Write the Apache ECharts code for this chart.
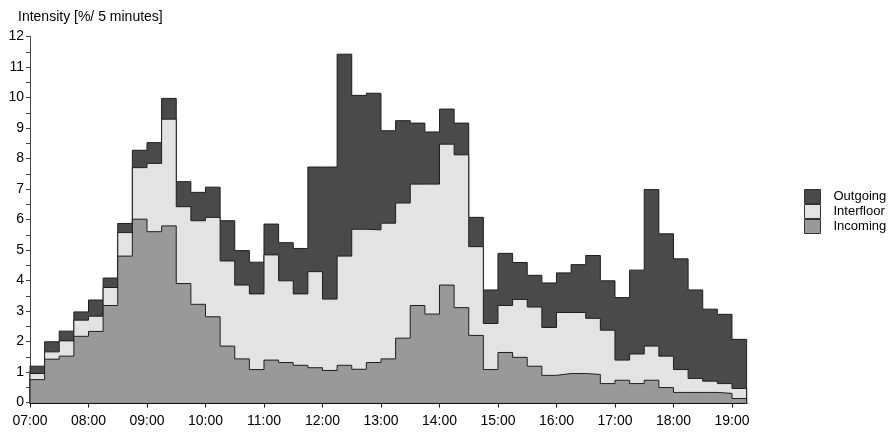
<!DOCTYPE html>
<html>
<head>
<meta charset="utf-8">
<script src="https://cdn.jsdelivr.net/npm/echarts@6/dist/echarts.min.js"></script>
<style>
html,body{margin:0;padding:0;background:#fff;}
#chart{width:890px;height:432px;}
</style>
</head>
<body>
<div id="chart"></div>
<script>
// 15-minute slot start times
const slotStarts = ['07:00','07:15','07:30','07:45','08:00','08:15','08:30','08:45',
  '09:00','09:15','09:30','09:45','10:00','10:15','10:30','10:45',
  '11:00','11:15','11:30','11:45','12:00','12:15','12:30','12:45',
  '13:00','13:15','13:30','13:45','14:00','14:15','14:30','14:45',
  '15:00','15:15','15:30','15:45','16:00','16:15','16:30','16:45',
  '17:00','17:15','17:30','17:45','18:00','18:15','18:30','18:45','19:00'];
const slotEnd = '19:15';
const hourLabels = ['07:00','08:00','09:00','10:00','11:00','12:00','13:00','14:00','15:00','16:00','17:00','18:00','19:00'];
const legendOrder = ['Outgoing','Interfloor','Incoming'];

const incoming = [0.75,1.42,1.52,2.17,2.33,3.18,4.80,6.01,5.60,5.79,3.90,3.22,2.81,1.85,1.43,1.08,
  1.39,1.31,1.22,1.14,1.05,1.22,1.09,1.31,1.43,2.11,3.18,2.90,3.85,3.11,2.20,1.08,
  1.64,1.48,1.19,0.89,0.95,0.95,0.92,0.62,0.73,0.62,0.73,0.49,0.33,0.33,0.33,0.30,0.13];
const interfloor = [0.20,0.24,0.50,0.53,0.50,0.59,0.77,1.69,2.24,3.50,2.52,2.74,3.26,2.79,2.42,2.48,
  3.45,2.68,2.34,3.15,2.34,3.58,4.59,4.35,4.45,4.43,3.98,4.26,4.62,5.01,2.91,1.51,
  1.54,1.90,1.94,1.57,2.00,2.00,1.84,1.75,0.66,0.97,1.12,1.03,0.75,0.46,0.37,0.32,0.33];
const outgoing = [0.24,0.33,0.32,0.27,0.53,0.31,0.30,0.57,0.68,0.68,0.82,0.93,0.99,1.32,1.13,1.04,
  1.01,1.25,1.49,3.43,4.33,6.62,4.39,4.48,3.03,2.70,2.00,1.71,1.15,1.04,0.96,1.10,
  1.71,1.21,1.04,1.46,1.30,1.57,2.06,1.62,2.05,2.75,5.13,4.01,3.63,2.90,2.36,2.27,1.61];

const colors = {Incoming:'#999999', Interfloor:'#e3e3e3', Outgoing:'#4a4a4a'};

function toHours(s){ const p = s.split(':'); return +p[0] + (+p[1])/60; }
const tStart = slotStarts.map(toHours);
const tEnd = toHours(slotEnd);
const hourTicks = hourLabels.map(toHours);

// cumulative tops (stack built by hand so the step edges stay exact)
const cumIncoming = incoming.slice();
const cumInterfloor = incoming.map((v,i)=> v + interfloor[i]);
const cumOutgoing = cumInterfloor.map((v,i)=> v + outgoing[i]);

function stepData(vals){
  const d = [[tStart[0], 0]];
  vals.forEach((v,i)=>d.push([tStart[i], v]));
  d.push([tEnd, vals[vals.length-1]]);
  d.push([tEnd, 0]);
  return d;
}
function mk(name, cum, z){
  return {
    name: name,
    type: 'line',
    step: 'end',
    symbol: 'none',
    showSymbol: false,
    z: z,
    color: colors[name],
    itemStyle: {color: colors[name]},
    lineStyle: {color: '#1e1e1e', width: 1},
    areaStyle: {color: colors[name], opacity: 1, origin: 'start'},
    emphasis: {disabled: true},
    data: stepData(cum)
  };
}
const series = [
  mk('Outgoing', cumOutgoing, 2),
  mk('Interfloor', cumInterfloor, 3),
  mk('Incoming', cumIncoming, 4)
];

const chart = echarts.init(document.getElementById('chart'), null, {renderer:'canvas'});
chart.setOption({
  animation: false,
  backgroundColor: '#ffffff',
  textStyle: {fontFamily: 'Liberation Sans, Arial, sans-serif'},
  title: {
    text: 'Intensity [%/ 5 minutes]',
    left: 13, top: 5,
    textStyle: {fontSize: 14, fontWeight: 'normal', color: '#000', fontFamily: 'Liberation Sans, Arial, sans-serif'}
  },
  legend: {
    orient: 'vertical',
    left: 799, top: 184,
    itemWidth: 16, itemHeight: 14, itemGap: 0,
    icon: 'rect',
    data: legendOrder,
    itemStyle: {borderColor: '#333', borderWidth: 1},
    textStyle: {fontSize: 13, color: '#000', padding: [0,0,0,8], fontFamily: 'Liberation Sans, Arial, sans-serif'},
    selectedMode: false
  },
  grid: {left: 30, right: 143.4, top: 36.5, bottom: 29.5, containLabel: false},
  xAxis: {
    type: 'value',
    min: tStart[0], max: tEnd, interval: 1,
    axisLine: {show: true, lineStyle: {color: '#111', width: 2}},
    axisTick: {show: true, length: 5, lineStyle: {color: '#111', width: 1}, customValues: hourTicks},
    axisLabel: {
      margin: 12, fontSize: 14, color: '#000',
      customValues: hourTicks,
      formatter: v => { const i = hourTicks.findIndex(h => Math.abs(h - v) < 1e-6); return i >= 0 ? hourLabels[i] : ''; }
    },
    splitLine: {show: false}
  },
  yAxis: {
    type: 'value',
    min: 0, max: 12, interval: 1,
    axisLine: {show: true, lineStyle: {color: '#444', width: 1}},
    axisTick: {show: true, length: 4, lineStyle: {color: '#444'}},
    minorTick: {show: true, splitNumber: 2, length: 4, lineStyle: {color: '#444'}},
    axisLabel: {margin: 6, fontSize: 14, color: '#000'},
    splitLine: {show: false}
  },
  series: series
});
</script>
</body>
</html>
